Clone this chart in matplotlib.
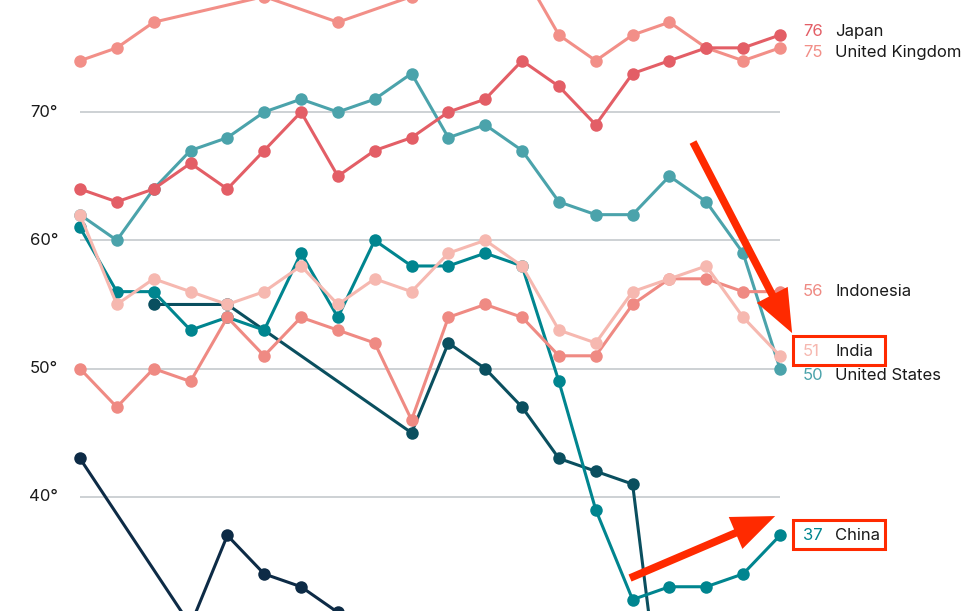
import numpy as np
import matplotlib
matplotlib.use("Agg")
import matplotlib.pyplot as plt
from matplotlib.patches import FancyArrowPatch, Rectangle

plt.rcParams['font.family'] = ['Inter', 'DejaVu Sans']

nan = np.nan
years = np.arange(20)

# values (nan = no point drawn)
uk = [74, 75, 77, nan, nan, 79, nan, 77, nan, 79, 80, 81, 81, 76, 74, 76, 77, 75, 74, 75]
japan = [64, 63, 64, 66, 64, 67, 70, 65, 67, 68, 70, 71, 74, 72, 69, 73, 74, 75, 75, 76]
usa = [62, 60, 64, 67, 68, 70, 71, 70, 71, 73, 68, 69, 67, 63, 62, 62, 65, 63, 59, 50]
india = [62, 55, 57, 56, 55, 56, 58, 55, 57, 56, 59, 60, 58, 53, 52, 56, 57, 58, 54, 51]
indonesia = [50, 47, 50, 49, 54, 51, 54, 53, 52, 46, 54, 55, 54, 51, 51, 55, 57, 57, 56, 56]
china = [61, 56, 56, 53, 54, 53, 59, 54, 60, 58, 58, 59, 58, 49, 39, 32, 33, 33, 34, 37]
dark_teal = [nan, nan, 55, nan, 55, nan, nan, nan, nan, 45, 52, 50, 47, 43, 42, 41, 18, nan, nan, nan]
navy = [43, nan, nan, 30, 37, 34, 33, 31, nan, nan, nan, nan, nan, nan, nan, nan, nan, nan, nan, nan]

yticks = [40, 50, 60, 70]

# drawn bottom to top
series = [
    (navy, '#0d2b46', None, None, None),
    (dark_teal, '#0a4f5f', None, None, None),
    (china, '#00858f', 'China', 37, 37),
    (usa, '#4ba3ab', 'United States', 50, 49.5),
    (indonesia, '#ef8a83', 'Indonesia', 56, 56),
    (india, '#f6b8b0', 'India', 51, 51.3),
    (uk, '#f28f88', 'United Kingdom', 75, 74.6),
    (japan, '#e35e66', 'Japan', 76, 76.3),
]

fig = plt.figure(figsize=(9.8, 6.11), dpi=100)
ax = fig.add_axes([0, 0, 1, 1])
ax.set_xlim(-2.171, 24.43)
ax.set_ylim(31.11, 78.73)
ax.axis('off')

ax.hlines(yticks, 0, 19, color='#c5c9cd', lw=1.2, zorder=1)
for t in yticks:
    ax.text(-0.6, t, '%d°' % t, ha='right', va='center', fontsize=12, color='#1a1a1a')

for i, (vals, col, name, last, ly) in enumerate(series):
    v = np.array(vals, dtype=float)
    m = ~np.isnan(v)
    ax.plot(years[m], v[m], color=col, lw=2.2, marker='o', markersize=9,
            markeredgewidth=0, zorder=2 + i, clip_on=False)
    if name:
        ax.text(19.62, ly, str(last), ha='left', va='center', fontsize=12, color=col)
        ax.text(20.5, ly, name, ha='left', va='center', fontsize=12, color='#1a1a1a')

red = '#ff2a00'
# boxes around India and China labels
for yc in [51.45, 37.05]:
    ax.add_patch(Rectangle((19.35, yc - 1.13), 2.5, 2.26, fill=False, ec=red, lw=2.2, zorder=20))

for tail, tip in [((16.64, 67.66), (19.33, 52.77)), ((14.93, 33.68), (18.87, 38.51))]:
    ax.add_patch(FancyArrowPatch(tail, tip, arrowstyle='simple,head_length=31,head_width=25,tail_width=5.5',
                                 mutation_scale=1, color=red, lw=0, shrinkA=0, shrinkB=0, zorder=21))

fig.savefig('out.png', dpi=100)
